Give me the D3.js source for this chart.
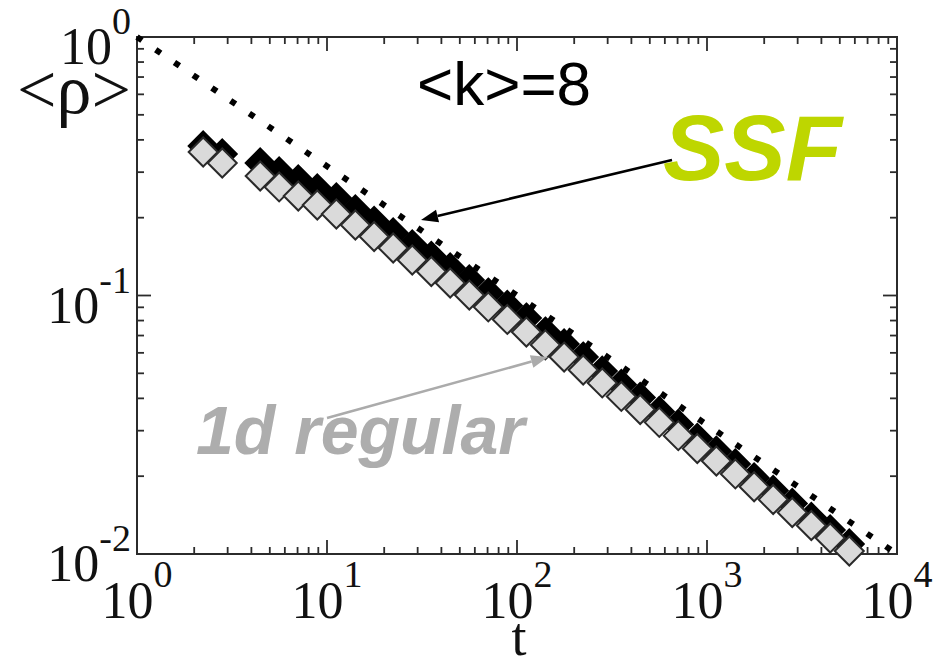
<!DOCTYPE html>
<html>
<head>
<meta charset="utf-8">
<script src="https://cdn.jsdelivr.net/npm/d3@7"></script>
<style>
  body { margin: 0; background: #fff; }
  svg { display: block; }
</style>
</head>
<body>
<script>
// time steps (same for both series, one step missing after the 2nd point)
var tValues = [2.23, 2.81, 4.45, 5.6, 7.06, 8.89, 11.2, 14.1, 17.7, 22.3, 28.1, 35.4, 44.5, 56.1,
  70.6, 88.9, 112, 141, 177, 223, 281, 354, 445, 561, 706, 889, 1120, 1410, 1770, 2230,
  2810, 3540, 4450, 5610];

var rhoSSF = [0.379, 0.3527, 0.3255, 0.3004, 0.2797, 0.2582, 0.2384, 0.2142, 0.1933, 0.1745, 0.1568,
  0.1416, 0.1278, 0.1148, 0.1022, 0.0915, 0.0818, 0.0722, 0.0649, 0.0578, 0.0510, 0.0453, 0.0403,
  0.0356, 0.0317, 0.0280, 0.0250, 0.0223, 0.0197, 0.0176, 0.01568, 0.01384, 0.01238, 0.01093];

var rho1d = [0.359, 0.3255, 0.290, 0.263, 0.2426, 0.2239, 0.2066, 0.1874, 0.1691, 0.1527, 0.1372,
  0.1238, 0.1118, 0.1004, 0.0903, 0.0808, 0.0722, 0.0644, 0.0578, 0.0515, 0.0459, 0.0407, 0.0362,
  0.0323, 0.0287, 0.0256, 0.0229, 0.0204, 0.0182, 0.01625, 0.01447, 0.01289, 0.01153, 0.01027];

// t^-1/2 guide line
var guideT = [1, 10000];
var guideRho = [1, 0.01];

var xExponents = [0, 1, 2, 3, 4];
var yExponents = [0, -1, -2];

var W = 949, H = 657;
var pL = 137, pR = 897, pT = 37, pB = 554;

var svg = d3.select("body").append("svg").attr("width", W).attr("height", H);

var x = d3.scaleLog().domain([1, 1e4]).range([pL, pR]);
var y = d3.scaleLog().domain([1e-2, 1]).range([pB, pT]);

var isMajor = function(v) { return Math.abs(Math.log10(v) - Math.round(Math.log10(v))) < 1e-9; };

// ticks on all four sides, pointing inward
var tickG = svg.append("g").attr("stroke", "#2b2b2b").attr("stroke-width", 1.8);
x.ticks().forEach(function(v) {
  var len = isMajor(v) ? 14 : 7;
  tickG.append("line").attr("x1", x(v)).attr("x2", x(v)).attr("y1", pB).attr("y2", pB - len);
  tickG.append("line").attr("x1", x(v)).attr("x2", x(v)).attr("y1", pT).attr("y2", pT + len);
});
y.ticks().forEach(function(v) {
  var len = isMajor(v) ? 14 : 7;
  tickG.append("line").attr("y1", y(v)).attr("y2", y(v)).attr("x1", pL).attr("x2", pL + len);
  tickG.append("line").attr("y1", y(v)).attr("y2", y(v)).attr("x1", pR).attr("x2", pR - len);
});

svg.append("rect")
  .attr("x", pL).attr("y", pT)
  .attr("width", pR - pL).attr("height", pB - pT)
  .attr("fill", "none").attr("stroke", "#2b2b2b").attr("stroke-width", 2);

// tick labels
var serif = "'Liberation Serif', 'Times New Roman', serif";
xExponents.forEach(function(e) {
  var t = svg.append("text")
    .attr("x", x(Math.pow(10, e))).attr("y", 618)
    .attr("text-anchor", "middle")
    .attr("font-family", serif).attr("font-size", 52).attr("fill", "#111");
  t.append("tspan").text("10");
  t.append("tspan").attr("dy", -31).attr("font-size", 38).text(e);
});
yExponents.forEach(function(e) {
  var t = svg.append("text")
    .attr("x", 131).attr("y", y(Math.pow(10, e)) + 27)
    .attr("text-anchor", "end")
    .attr("font-family", serif).attr("font-size", 52).attr("fill", "#111");
  t.append("tspan").text("10");
  t.append("tspan").attr("dy", -30).attr("font-size", 38).text(e);
});

// axis titles
svg.append("text").attr("x", 519).attr("y", 655).attr("text-anchor", "middle")
  .attr("font-family", serif).attr("font-size", 54).attr("fill", "#111").text("t");
svg.append("text").attr("x", 17).attr("y", 113)
  .attr("font-family", serif).attr("font-size", 70).attr("fill", "#111").text("<\u03c1>");

// guide line (dotted)
var line = d3.line()
  .x(function(d, i) { return x(guideT[i]); })
  .y(function(d, i) { return y(guideRho[i]); });
svg.append("path")
  .attr("d", line(guideT))
  .attr("fill", "none").attr("stroke", "#000")
  .attr("stroke-width", 6).attr("stroke-dasharray", "6,16.64");

// diamonds
var h = 14.5;
function diamond(cx, cy) {
  return "M" + cx + "," + (cy - h) + "L" + (cx + h) + "," + cy + "L" + cx + "," + (cy + h) +
    "L" + (cx - h) + "," + cy + "Z";
}

svg.append("g").selectAll("path")
  .data(tValues).enter().append("path")
  .attr("d", function(d, i) { return diamond(x(d), y(rhoSSF[i])); })
  .attr("fill", "#000").attr("stroke", "#000").attr("stroke-width", 2);

svg.append("g").selectAll("path")
  .data(tValues).enter().append("path")
  .attr("d", function(d, i) { return diamond(x(d), y(rho1d[i])); })
  .attr("fill", "#dadada").attr("stroke", "#2a2a2a").attr("stroke-width", 2);

// annotation arrows
function arrow(x1, y1, x2, y2, color) {
  var a = Math.atan2(y2 - y1, x2 - x1), L = 17, w = 6.5;
  var bx = x2 - L * Math.cos(a), by = y2 - L * Math.sin(a);
  svg.append("line").attr("x1", x1).attr("y1", y1).attr("x2", bx).attr("y2", by)
    .attr("stroke", color).attr("stroke-width", 2.6);
  svg.append("path")
    .attr("d", "M" + x2 + "," + y2 +
      "L" + (bx + w * Math.sin(a)) + "," + (by - w * Math.cos(a)) +
      "L" + (bx - w * Math.sin(a)) + "," + (by + w * Math.cos(a)) + "Z")
    .attr("fill", color);
}
arrow(672, 160, 421, 220, "#000");
arrow(327, 418, 548, 357, "#ababab");

var sans = "'Liberation Sans', Arial, sans-serif";
svg.append("text").attr("x", 417).attr("y", 105)
  .attr("font-family", sans).attr("font-size", 62).attr("fill", "#000").text("<k>=8");
svg.append("text").attr("x", 663).attr("y", 180)
  .attr("font-family", sans).attr("font-size", 92).attr("font-weight", "bold")
  .attr("font-style", "italic").attr("fill", "#bed600").text("SSF");
svg.append("text").attr("x", 196).attr("y", 454)
  .attr("font-family", sans).attr("font-size", 68).attr("font-weight", "bold")
  .attr("font-style", "italic").attr("fill", "#adadad").text("1d regular");
</script>
</body>
</html>
